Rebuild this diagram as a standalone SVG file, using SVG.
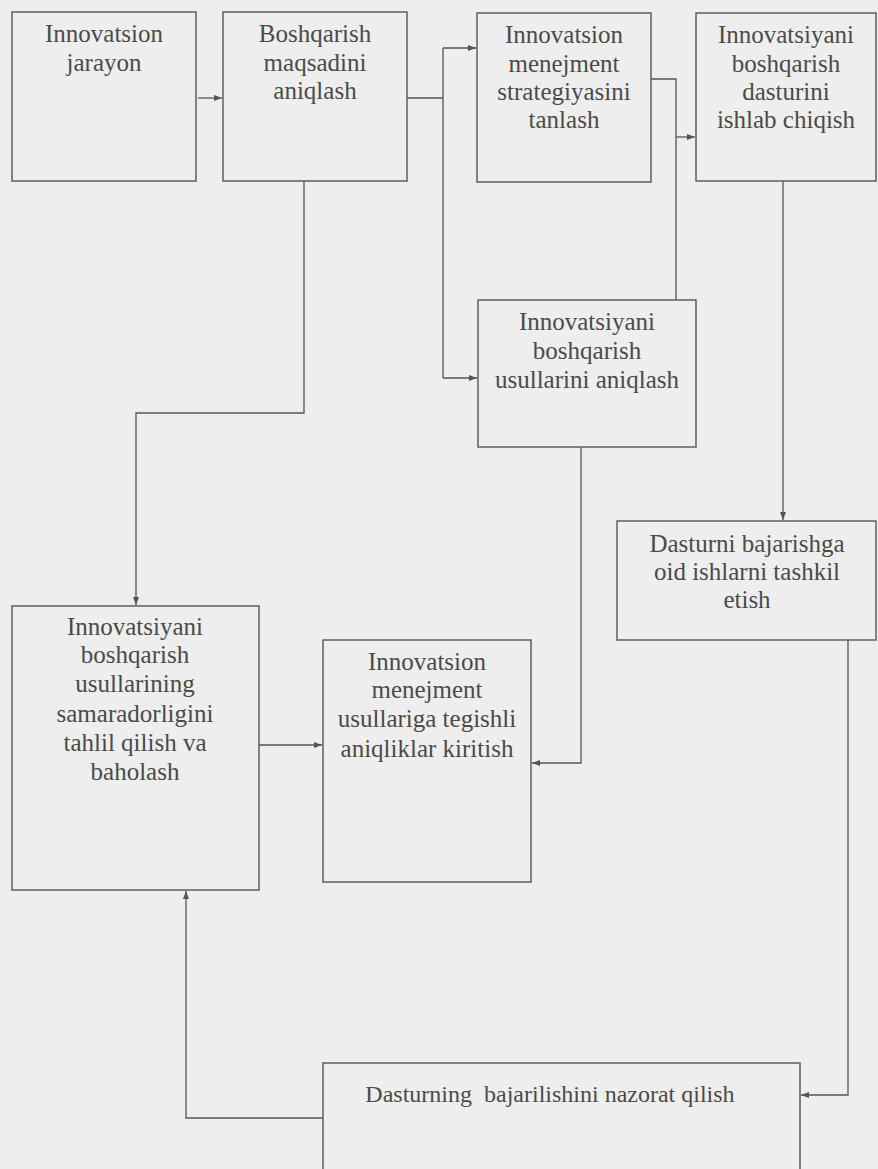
<svg xmlns="http://www.w3.org/2000/svg" width="878" height="1169" viewBox="0 0 878 1169">
<style>
.box{fill:none;stroke:#555;stroke-width:1.4}
.t{font-family:"Liberation Serif","Times New Roman",serif;font-size:25px;fill:#4a4a4a;text-anchor:middle}
.c{fill:none;stroke:#555;stroke-width:1.3}
</style>
<defs>
<marker id="ah" markerWidth="9" markerHeight="7" refX="8" refY="3.5" orient="auto" markerUnits="userSpaceOnUse">
<path d="M0,0.5 L8,3.5 L0,6.5 z" fill="#555"/>
</marker>
</defs>
<rect x="0" y="0" width="878" height="1169" fill="#eeeeee"/>
<g id="connectors">
<path class="c" d="M198,98 H222" marker-end="url(#ah)"/>
<path class="c" d="M407,98 H443"/>
<path class="c" d="M443,48 V378"/>
<path class="c" d="M443,48 H476" marker-end="url(#ah)"/>
<path class="c" d="M443,378 H477" marker-end="url(#ah)"/>
<path class="c" d="M651,79 H676 V300"/>
<path class="c" d="M676,137 H695" marker-end="url(#ah)"/>
<path class="c" d="M304,181 V413 H136 V605" marker-end="url(#ah)"/>
<path class="c" d="M783,181 V520" marker-end="url(#ah)"/>
<path class="c" d="M581,447 V763 H532" marker-end="url(#ah)"/>
<path class="c" d="M259,745 H322" marker-end="url(#ah)"/>
<path class="c" d="M848,640 V1095 H801" marker-end="url(#ah)"/>
<path class="c" d="M323,1118 H186 V891" marker-end="url(#ah)"/>
</g>
<g id="n1">
<rect class="box" x="12" y="12" width="184" height="169"/>
<text class="t" x="104" y="42">Innovatsion</text>
<text class="t" x="104" y="71">jarayon</text>
</g>
<g id="n2">
<rect class="box" x="223" y="12" width="184" height="169"/>
<text class="t" x="315" y="42">Boshqarish</text>
<text class="t" x="315" y="71">maqsadini</text>
<text class="t" x="315" y="99">aniqlash</text>
</g>
<g id="n3">
<rect class="box" x="477" y="13" width="174" height="169"/>
<text class="t" x="564" y="43">Innovatsion</text>
<text class="t" x="564" y="72">menejment</text>
<text class="t" x="564" y="100">strategiyasini</text>
<text class="t" x="564" y="128">tanlash</text>
</g>
<g id="n4">
<rect class="box" x="696" y="13" width="180" height="168"/>
<text class="t" x="786" y="43">Innovatsiyani</text>
<text class="t" x="786" y="72">boshqarish</text>
<text class="t" x="786" y="100">dasturini</text>
<text class="t" x="786" y="128">ishlab chiqish</text>
</g>
<g id="n5">
<rect class="box" x="478" y="300" width="218" height="147"/>
<text class="t" x="587" y="330">Innovatsiyani</text>
<text class="t" x="587" y="359">boshqarish</text>
<text class="t" x="587" y="388">usullarini aniqlash</text>
</g>
<g id="n6">
<rect class="box" x="617" y="521" width="259" height="119"/>
<text class="t" x="747" y="552">Dasturni bajarishga</text>
<text class="t" x="747" y="580">oid ishlarni tashkil</text>
<text class="t" x="747" y="608">etish</text>
</g>
<g id="n7">
<rect class="box" x="12" y="606" width="247" height="284"/>
<text class="t" x="135" y="635">Innovatsiyani</text>
<text class="t" x="135" y="663">boshqarish</text>
<text class="t" x="135" y="692">usullarining</text>
<text class="t" x="135" y="722">samaradorligini</text>
<text class="t" x="135" y="751">tahlil qilish va</text>
<text class="t" x="135" y="780">baholash</text>
</g>
<g id="n8">
<rect class="box" x="323" y="640" width="208" height="242"/>
<text class="t" x="427" y="670">Innovatsion</text>
<text class="t" x="427" y="698">menejment</text>
<text class="t" x="427" y="727">usullariga tegishli</text>
<text class="t" x="427" y="757">aniqliklar kiritish</text>
</g>
<g id="n9">
<rect class="box" x="323" y="1063" width="477" height="130"/>
<text class="t" x="550" y="1102" style="font-size:24px;white-space:pre" xml:space="preserve">Dasturning  bajarilishini nazorat qilish</text>
</g>
</svg>
